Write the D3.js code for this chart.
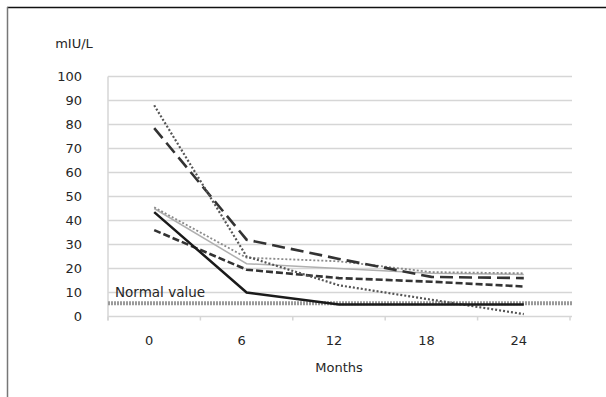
<!DOCTYPE html>
<html lang="en">
<head>
<meta charset="UTF-8">
<title>mIU/L over months</title>
<script src="https://cdn.jsdelivr.net/npm/d3@7"></script>
<style>
  body { margin: 0; padding: 0; background: #fff; overflow: hidden; }
  svg text { font-family: "DejaVu Sans", sans-serif; fill: #262626; }
</style>
</head>
<body>
<div id="chart"></div>
<script>
  const months = ["0", "6", "12", "18", "24"];
  const yTicks = [0, 10, 20, 30, 40, 50, 60, 70, 80, 90, 100];
  const normalValue = 5.5;

  // one array per patient line
  const dottedDark = [88, 25, 13, 7, 1];
  const longDash = [78.5, 32, 24, 16.5, 16];
  const grayDotted = [45.5, 24.5, 23, 18.5, 18];
  const graySolid = [45, 22, 20, 18, 17.5];
  const solidBlack = [43.5, 10, 5, 5, 5];
  const shortDash = [36, 19.5, 16, 14.5, 12.5];

  const series = [
    { values: graySolid, color: "#b0b0b0", width: 1.5, dash: null },
    { values: grayDotted, color: "#8a8a8a", width: 1.8, dash: "2,2" },
    { values: shortDash, color: "#333", width: 2.6, dash: "7,3" },
    { values: longDash, color: "#333", width: 2.6, dash: "13,6" },
    { values: dottedDark, color: "#555", width: 2.2, dash: "2,2" },
    { values: solidBlack, color: "#1a1a1a", width: 2.5, dash: null }
  ];

  const width = 606, height = 397;
  const svg = d3.select("#chart").append("svg")
    .attr("width", width)
    .attr("height", height);

  // outer frame (only top and left edges fall inside the picture)
  svg.append("line").attr("x1", 7).attr("x2", width).attr("y1", 7.5).attr("y2", 7.5)
    .attr("stroke", "#111").attr("stroke-width", 1.5);
  svg.append("line").attr("x1", 7.5).attr("x2", 7.5).attr("y1", 7).attr("y2", height)
    .attr("stroke", "#777").attr("stroke-width", 1.5);

  const x = d3.scalePoint().domain(months).range([108, 570]).padding(0.5);
  const xBand = d3.scaleBand().domain(months).range([108, 570]);
  const y = d3.scaleLinear().domain([0, 100]).range([316.5, 76.5]);

  // gridlines
  svg.append("g")
    .selectAll("line")
    .data(yTicks)
    .join("line")
    .attr("x1", 108).attr("x2", 572)
    .attr("y1", d => y(d)).attr("y2", d => y(d))
    .attr("stroke", "#d6d6d6").attr("stroke-width", 1.5);

  // vertical axis line
  svg.append("line")
    .attr("x1", 108).attr("x2", 108)
    .attr("y1", y(100)).attr("y2", y(0) + 4)
    .attr("stroke", "#d6d6d6").attr("stroke-width", 1.5);

  // x ticks between categories
  const bounds = months.map(m => xBand(m)).concat([xBand.range()[1]]);
  svg.append("g")
    .selectAll("line")
    .data(bounds)
    .join("line")
    .attr("x1", d => d).attr("x2", d => d)
    .attr("y1", y(0)).attr("y2", y(0) + 4)
    .attr("stroke", "#d6d6d6").attr("stroke-width", 1.5);

  // y tick labels
  svg.append("g")
    .selectAll("text")
    .data(yTicks)
    .join("text")
    .attr("x", 82)
    .attr("y", d => y(d))
    .attr("dy", "0.36em")
    .attr("text-anchor", "end")
    .attr("font-size", 13)
    .text(d => d);

  // x tick labels
  svg.append("g")
    .selectAll("text")
    .data(months)
    .join("text")
    .attr("x", d => x(d) - 5)
    .attr("y", 345)
    .attr("text-anchor", "middle")
    .attr("font-size", 13)
    .text(d => d);

  svg.append("text")
    .attr("x", 74).attr("y", 48)
    .attr("text-anchor", "middle")
    .attr("font-size", 13)
    .text("mIU/L");

  svg.append("text")
    .attr("x", 339).attr("y", 372)
    .attr("text-anchor", "middle")
    .attr("font-size", 13)
    .text("Months");

  // normal value reference line
  svg.append("line")
    .attr("x1", 108).attr("x2", 572)
    .attr("y1", y(normalValue)).attr("y2", y(normalValue))
    .attr("stroke", "#9a9a9a").attr("stroke-width", 4)
    .attr("stroke-dasharray", "2,1");

  svg.append("text")
    .attr("x", 115).attr("y", 297)
    .attr("font-size", 13.5)
    .text("Normal value");

  const line = d3.line()
    .x((d, i) => x(months[i]))
    .y(d => y(d));

  svg.append("g")
    .selectAll("path")
    .data(series)
    .join("path")
    .attr("d", d => line(d.values))
    .attr("fill", "none")
    .attr("stroke", d => d.color)
    .attr("stroke-width", d => d.width)
    .attr("stroke-dasharray", d => d.dash);
</script>
</body>
</html>
